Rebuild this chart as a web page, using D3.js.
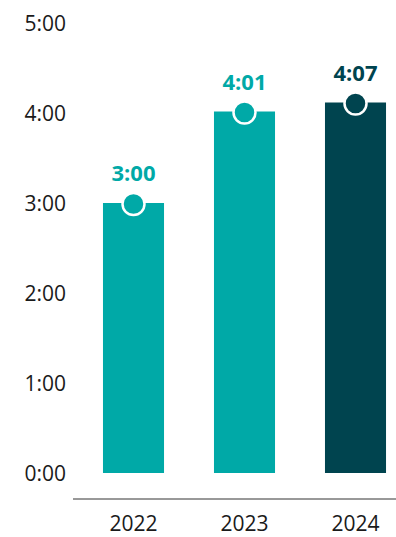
<!DOCTYPE html>
<html>
<head>
  <meta charset="utf-8">
  <script src="https://d3js.org/d3.v7.min.js"></script>
  <style>
  body {
    margin: 0;
    background: #fff;
  }
  text {
    font-family: "Open Sans", sans-serif;
  }
  .y.axis text, .x.axis text {
    font-size: 21px;
    fill: #1a1a1a;
  }
  .val {
    font-size: 22px;
    font-weight: 700;
  }
</style>
</head>
<body>
<script>

  // data
  var years = ["2022", "2023", "2024"];
  var minutes = [180, 241, 247];   // 3:00, 4:01, 4:07
  var colors = ["#00a9a7", "#00a9a7", "#00444f"];
  var yTicks = [0, 60, 120, 180, 240, 300];

  var width = 396, height = 537;

  var svg = d3.select("body").append("svg")
    .attr("width", width)
    .attr("height", height);

  var x = d3.scaleBand().domain(years).range([78, 411])
    .paddingInner(0.45).paddingOuter(0.225);
  var y = d3.scaleLinear().domain([0, 300]).range([473, 23]);

  function fmt(m) {
    var h = Math.floor(m / 60), mm = m % 60;
    return h + ":" + (mm < 10 ? "0" : "") + mm;
  }

  // y labels
  var yAxis = svg.append("g")
    .attr("class", "y axis")
    .attr("transform", "translate(66,1)")
    .call(d3.axisLeft(y).tickValues(yTicks).tickFormat(fmt).tickSize(0).tickPadding(0));
  yAxis.select(".domain").remove();

  // baseline
  svg.append("line")
    .attr("x1", 73).attr("x2", width)
    .attr("y1", 499).attr("y2", 499)
    .attr("stroke", "#333").attr("stroke-width", 1);

  // x labels
  var xAxis = svg.append("g")
    .attr("class", "x axis")
    .attr("transform", "translate(0,516)")
    .call(d3.axisBottom(x).tickSize(0).tickPadding(0));
  xAxis.select(".domain").remove();

  var data = years.map((d, i) => ({year: d, value: minutes[i], color: colors[i]}));

  svg.selectAll(".bar")
    .data(data)
    .enter().append("rect")
    .attr("class", "bar")
    .attr("x", d => x(d.year))
    .attr("width", x.bandwidth())
    .attr("y", d => y(d.value))
    .attr("height", d => y(0) - y(d.value))
    .attr("fill", d => d.color);

  svg.selectAll(".dot")
    .data(data)
    .enter().append("circle")
    .attr("class", "dot")
    .attr("cx", d => x(d.year) + x.bandwidth() / 2)
    .attr("cy", d => y(d.value) + 1)
    .attr("r", 11)
    .attr("fill", d => d.color)
    .attr("stroke", "#fff")
    .attr("stroke-width", 2.5);

  svg.selectAll(".val")
    .data(data)
    .enter().append("text")
    .attr("class", "val")
    .attr("x", d => x(d.year) + x.bandwidth() / 2)
    .attr("y", d => y(d.value) - 22)
    .attr("text-anchor", "middle")
    .attr("fill", d => d.color)
    .text(d => fmt(d.value));

</script>
</body>
</html>
